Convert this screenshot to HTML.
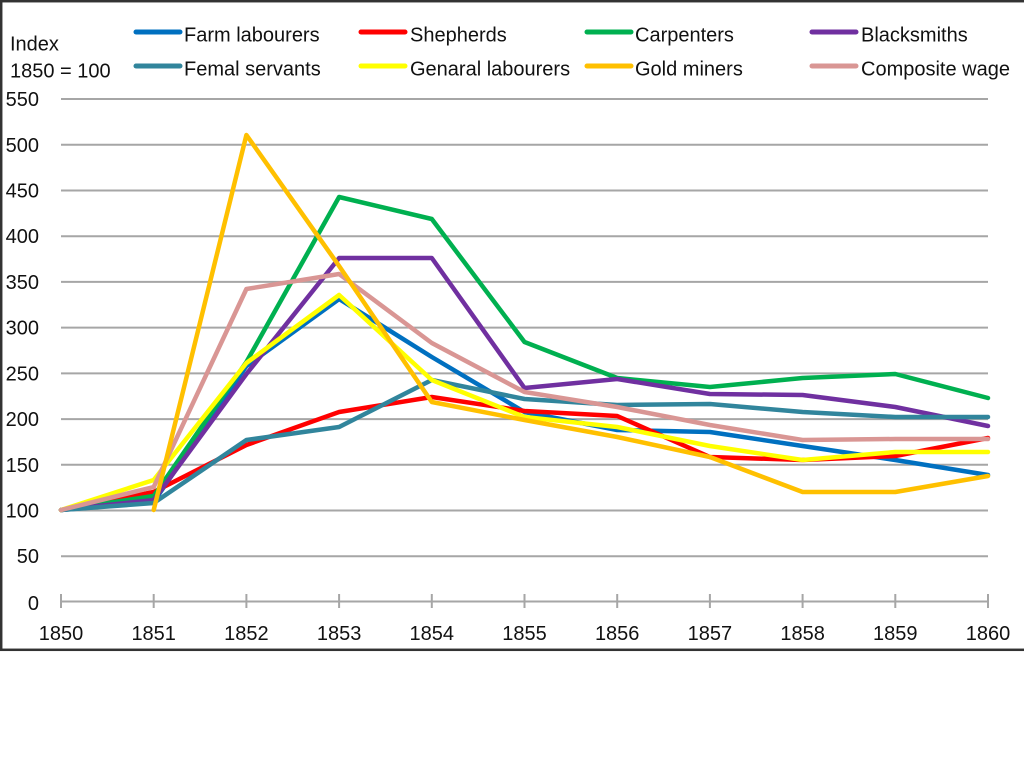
<!DOCTYPE html>
<html>
<head>
<meta charset="utf-8">
<style>
  html, body { margin:0; padding:0; background:#fff; }
  body { width:1024px; height:770px; overflow:hidden; }
  svg { display:block; }
  text { font-family: "Liberation Sans", sans-serif; fill:#111; font-size:20px; }
</style>
</head>
<body>
<svg width="1024" height="770" viewBox="0 0 1024 770" xmlns="http://www.w3.org/2000/svg">
  <rect x="0" y="0" width="1024" height="770" fill="#fff"/>
  <!-- chart border -->
  <rect x="1.2" y="1.2" width="1040" height="648.6" fill="none" stroke="#333" stroke-width="2.5"/>

  <!-- gridlines -->
  <g stroke="#a6a6a6" stroke-width="2">
    <line x1="61" y1="99" x2="988" y2="99"/>
    <line x1="61" y1="144.7" x2="988" y2="144.7"/>
    <line x1="61" y1="190.5" x2="988" y2="190.5"/>
    <line x1="61" y1="236.2" x2="988" y2="236.2"/>
    <line x1="61" y1="281.9" x2="988" y2="281.9"/>
    <line x1="61" y1="327.6" x2="988" y2="327.6"/>
    <line x1="61" y1="373.4" x2="988" y2="373.4"/>
    <line x1="61" y1="419.1" x2="988" y2="419.1"/>
    <line x1="61" y1="464.8" x2="988" y2="464.8"/>
    <line x1="61" y1="510.5" x2="988" y2="510.5"/>
    <line x1="61" y1="556.3" x2="988" y2="556.3"/>
    <line x1="61" y1="601.5" x2="988" y2="601.5"/>
  </g>
  <!-- x ticks -->
  <g stroke="#a6a6a6" stroke-width="2">
    <line x1="61" y1="594" x2="61" y2="608"/>
    <line x1="153.7" y1="594" x2="153.7" y2="608"/>
    <line x1="246.4" y1="594" x2="246.4" y2="608"/>
    <line x1="339.1" y1="594" x2="339.1" y2="608"/>
    <line x1="431.8" y1="594" x2="431.8" y2="608"/>
    <line x1="524.5" y1="594" x2="524.5" y2="608"/>
    <line x1="617.2" y1="594" x2="617.2" y2="608"/>
    <line x1="709.9" y1="594" x2="709.9" y2="608"/>
    <line x1="802.6" y1="594" x2="802.6" y2="608"/>
    <line x1="895.3" y1="594" x2="895.3" y2="608"/>
    <line x1="988" y1="594" x2="988" y2="608"/>
  </g>

  <!-- y labels -->
  <g text-anchor="end">
    <text x="39" y="106">550</text>
    <text x="39" y="152">500</text>
    <text x="39" y="197.5">450</text>
    <text x="39" y="243">400</text>
    <text x="39" y="289">350</text>
    <text x="39" y="334.5">300</text>
    <text x="39" y="380.5">250</text>
    <text x="39" y="426">200</text>
    <text x="39" y="472">150</text>
    <text x="39" y="517.5">100</text>
    <text x="39" y="563">50</text>
    <text x="39" y="610">0</text>
  </g>
  <!-- x labels -->
  <g text-anchor="middle">
    <text x="61" y="640">1850</text>
    <text x="153.7" y="640">1851</text>
    <text x="246.4" y="640">1852</text>
    <text x="339.1" y="640">1853</text>
    <text x="431.8" y="640">1854</text>
    <text x="524.5" y="640">1855</text>
    <text x="617.2" y="640">1856</text>
    <text x="709.9" y="640">1857</text>
    <text x="802.6" y="640">1858</text>
    <text x="895.3" y="640">1859</text>
    <text x="988" y="640">1860</text>
  </g>

  <text x="10" y="50.5">Index</text>
  <text x="10" y="77.5">1850 = 100</text>

  <!-- series -->
  <g fill="none" stroke-width="4.5" stroke-linejoin="round" stroke-linecap="round">
    <polyline stroke="#0070C0" points="61,510 153.7,502 246.4,366 339.1,299 431.8,357 524.5,412 617.2,430 709.9,432 802.6,446 895.3,460 988,475"/>
    <polyline stroke="#FF0000" points="61,510 153.7,492 246.4,445 339.1,412 431.8,397 524.5,411 617.2,416 709.9,457 802.6,460 895.3,456 988,438"/>
    <polyline stroke="#00B050" points="61,510 153.7,496 246.4,362 339.1,197 431.8,219 524.5,342 617.2,378 709.9,387 802.6,378 895.3,374 988,398"/>
    <polyline stroke="#7030A0" points="61,510 153.7,500 246.4,374 339.1,258 431.8,258 524.5,388 617.2,379 709.9,394 802.6,395 895.3,407 988,426"/>
    <polyline stroke="#31859C" points="61,510 153.7,503 246.4,440 339.1,427 431.8,380 524.5,399 617.2,405 709.9,404 802.6,412 895.3,417 988,417"/>
    <polyline stroke="#FFFF00" points="61,510 153.7,480 246.4,363 339.1,295 431.8,380 524.5,417 617.2,427 709.9,446 802.6,460 895.3,452 988,452"/>
    <polyline stroke="#D99694" points="61,510 153.7,487 246.4,289 339.1,274 431.8,343 524.5,392 617.2,407 709.9,425 802.6,440 895.3,439 988,439"/>
    <polyline stroke="#FFC000" points="153.7,510 246.4,135 339.1,266 431.8,402 524.5,420 617.2,437 709.9,457 802.6,492 895.3,492 988,476"/>
  </g>

  <!-- legend -->
  <g stroke-width="5" stroke-linecap="round">
    <line x1="136" y1="32" x2="180" y2="32" stroke="#0070C0"/>
    <line x1="361" y1="32" x2="405" y2="32" stroke="#FF0000"/>
    <line x1="587" y1="32" x2="631" y2="32" stroke="#00B050"/>
    <line x1="812" y1="32" x2="856" y2="32" stroke="#7030A0"/>
    <line x1="136" y1="66" x2="180" y2="66" stroke="#31859C"/>
    <line x1="361" y1="66" x2="405" y2="66" stroke="#FFFF00"/>
    <line x1="587" y1="66" x2="631" y2="66" stroke="#FFC000"/>
    <line x1="812" y1="66" x2="856" y2="66" stroke="#D99694"/>
  </g>
  <text x="184" y="41.5">Farm labourers</text>
  <text x="410" y="41.5">Shepherds</text>
  <text x="635" y="41.5">Carpenters</text>
  <text x="861" y="41.5">Blacksmiths</text>
  <text x="184" y="75.5">Femal servants</text>
  <text x="410" y="75.5">Genaral labourers</text>
  <text x="635" y="75.5">Gold miners</text>
  <text x="861" y="75.5">Composite wage</text>
</svg>
</body>
</html>
